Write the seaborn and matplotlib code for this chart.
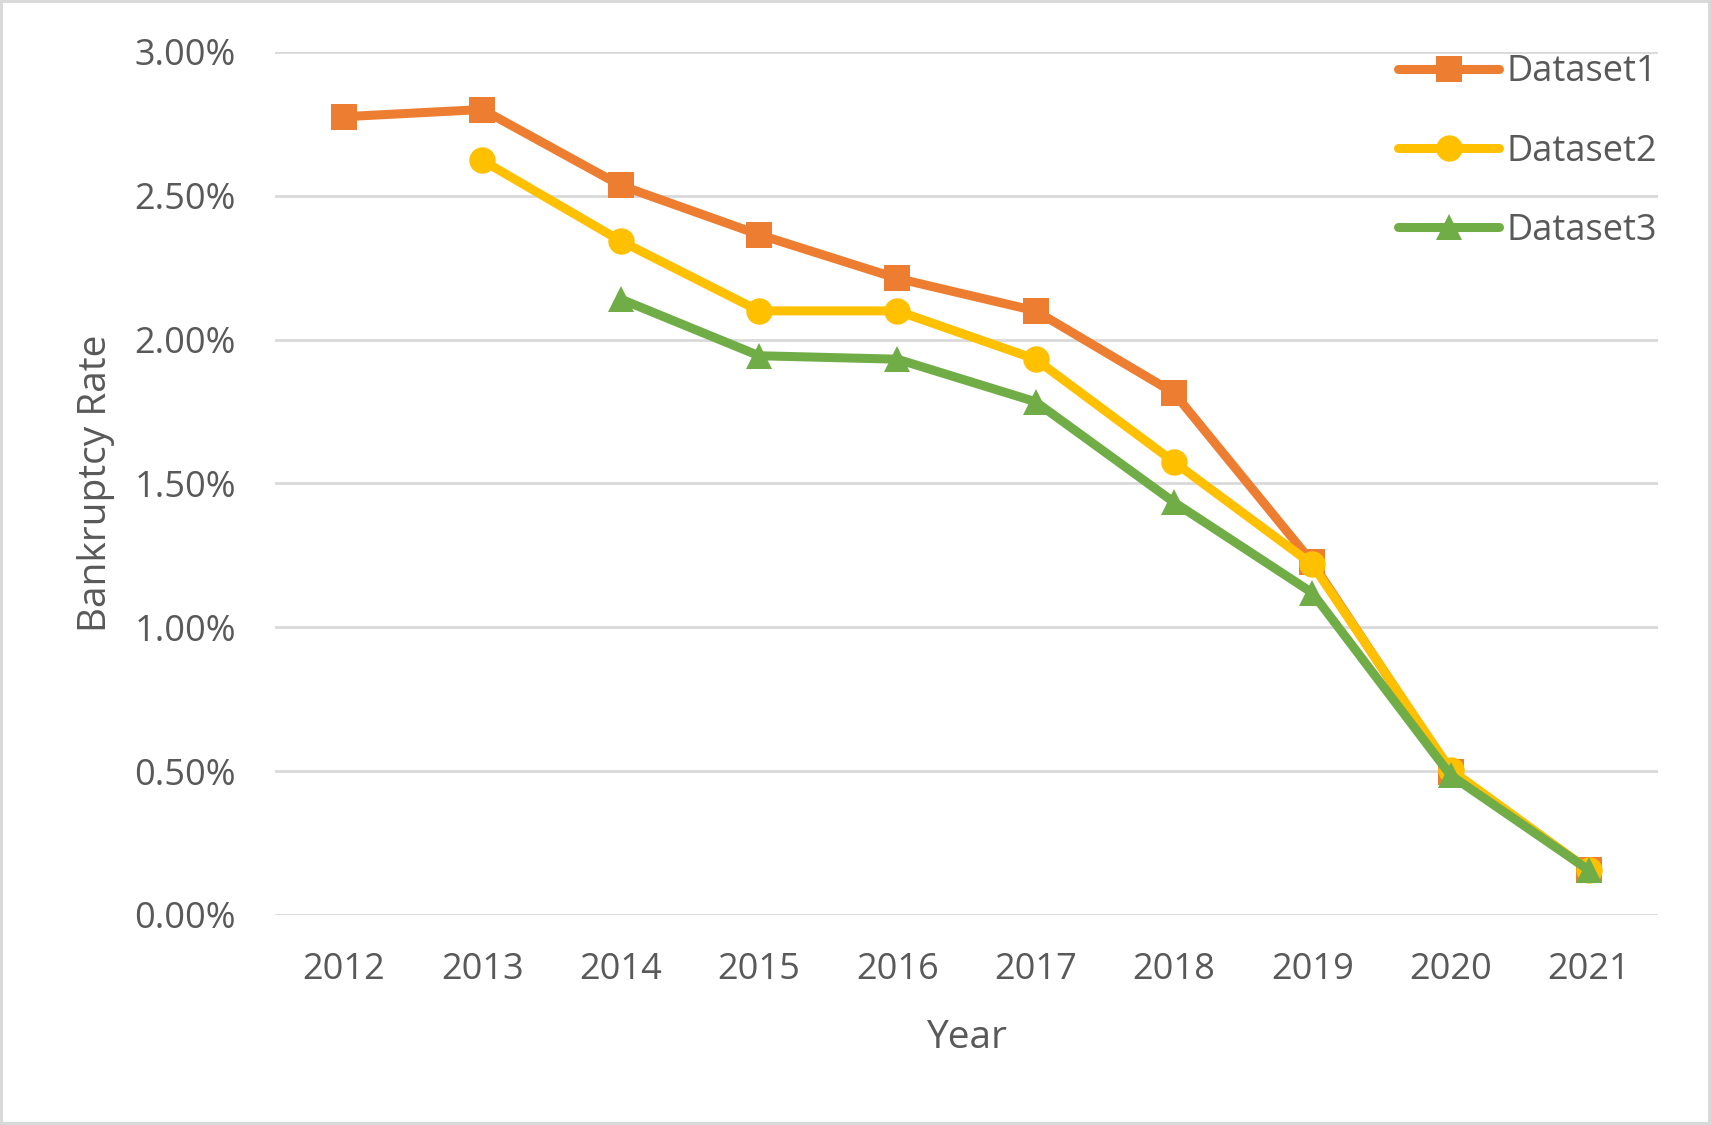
import matplotlib
matplotlib.use("Agg")
import matplotlib.pyplot as plt
import seaborn as sns
import numpy as np
import pandas as pd
from matplotlib.ticker import FuncFormatter

years = ["2012", "2013", "2014", "2015", "2016", "2017", "2018", "2019", "2020", "2021"]
dataset1 = [2.775, 2.80, 2.536, 2.365, 2.213, 2.10, 1.815, 1.226, 0.497, 0.156]
dataset2 = [np.nan, 2.623, 2.343, 2.10, 2.10, 1.932, 1.575, 1.219, 0.505, 0.156]
dataset3 = [np.nan, np.nan, 2.141, 1.944, 1.932, 1.784, 1.435, 1.12, 0.486, 0.156]
series_names = ["Dataset1", "Dataset2", "Dataset3"]

frames = []
for nome, valores in zip(series_names, [dataset1, dataset2, dataset3]):
    frames.append(pd.DataFrame({
        "Year": years,
        "pos": np.arange(len(years)),
        "rate": np.array(valores) / 100.0,
        "serie": nome,
    }))
df = pd.concat(frames, ignore_index=True).dropna()

sns.set_style("white")
plt.rcParams["font.family"] = ["Open Sans", "DejaVu Sans"]
texto = "#595959"

fig = plt.figure(figsize=(17.11, 11.25), dpi=100)
fig.patch.set_edgecolor("#D9D9D9")
fig.patch.set_linewidth(3)
ax = fig.add_axes([0.1607, 0.1867, 0.8083, 0.7671])

cores = {"Dataset1": "#ED7D31", "Dataset2": "#FFC000", "Dataset3": "#70AD47"}
marcadores = {"Dataset1": "s", "Dataset2": "o", "Dataset3": "^"}

sns.lineplot(
    data=df, x="pos", y="rate", hue="serie", style="serie",
    hue_order=series_names, style_order=series_names,
    palette=cores, markers=marcadores, dashes=False,
    linewidth=6.5, markersize=19, markeredgewidth=0,
    ax=ax, legend=True, zorder=3,
)

ax.set_xlim(-0.5, len(years) - 0.5)
ax.set_ylim(0, 0.03)
ax.set_yticks(np.arange(0, 0.0301, 0.005))
ax.yaxis.set_major_formatter(FuncFormatter(lambda v, p: f"{v * 100:.2f}%"))
ax.set_xticks(np.arange(len(years)))
ax.set_xticklabels(years)
ax.grid(True, axis="y", color="#D9D9D9", linewidth=2)
ax.set_axisbelow(True)
for s in ax.spines.values():
    s.set_visible(False)
ax.tick_params(axis="both", length=0, labelsize=26, colors=texto)
ax.tick_params(axis="y", pad=28)
ax.tick_params(axis="x", pad=27)

ax.set_xlabel("Year", fontsize=28, color=texto, labelpad=22)
ax.set_ylabel("Bankruptcy Rate", fontsize=28, color=texto, labelpad=14)

handles, labels = ax.get_legend_handles_labels()
leg = ax.legend(
    handles, labels, loc="upper right", frameon=False,
    fontsize=26, handlelength=2.8, labelspacing=1.2,
    borderaxespad=0.0, handletextpad=0.2,
    bbox_to_anchor=(1.01, 1.014),
)
for t in leg.get_texts():
    t.set_color(texto)

fig.savefig("out.png", dpi=100, edgecolor=fig.get_edgecolor())
